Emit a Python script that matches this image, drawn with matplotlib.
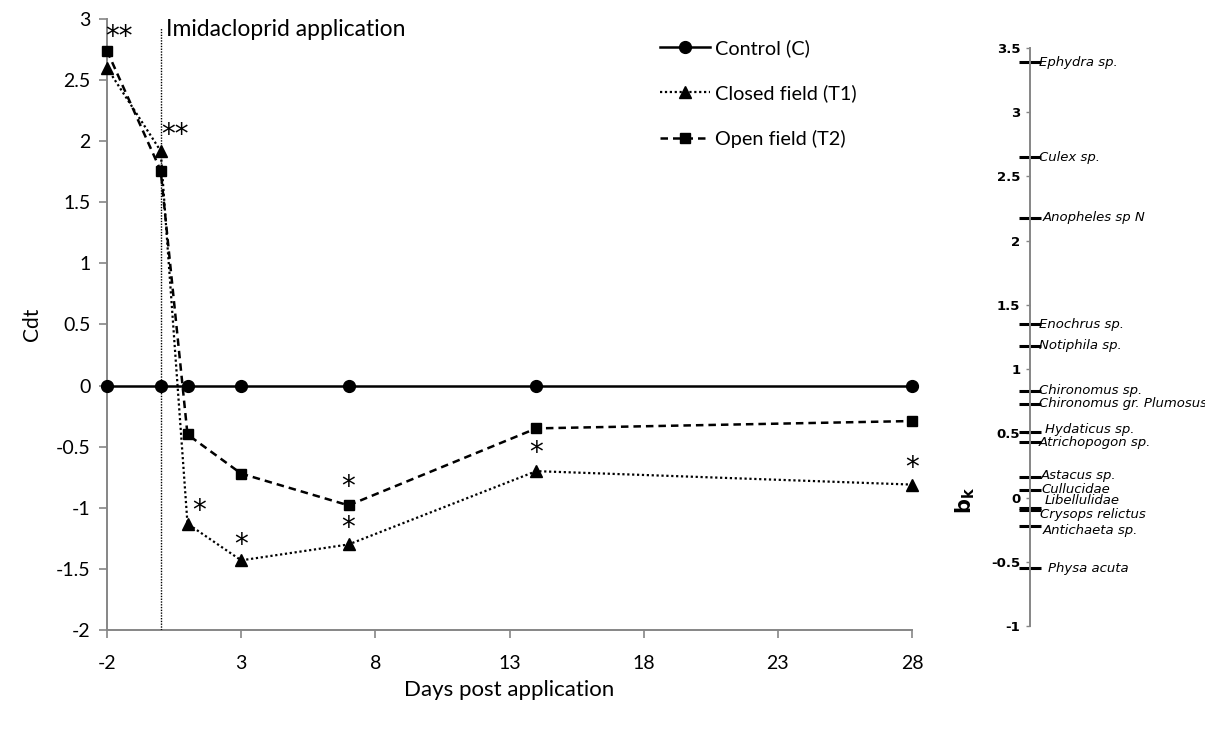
import matplotlib.pyplot as plt
import matplotlib.transforms as mtransforms

plt.rcParams['font.family'] = ['Lato', 'DejaVu Sans']
plt.rcParams['axes.unicode_minus'] = False

# main panel data
days = [-2, 0, 1, 3, 7, 14, 28]
control = [0, 0, 0, 0, 0, 0, 0]
closed_t1 = [2.60, 1.92, -1.13, -1.43, -1.30, -0.70, -0.81]
open_t2 = [2.74, 1.76, -0.40, -0.72, -0.98, -0.35, -0.29]
x_ticks = [-2, 3, 8, 13, 18, 23, 28]
y_ticks = [-2, -1.5, -1, -0.5, 0, 0.5, 1, 1.5, 2, 2.5, 3]

# significance marks: (series, index of day, text)
sig_marks = [
    ("T2", 0, "**"),
    ("T1", 1, "**"),
    ("T1", 2, "*"),
    ("T1", 3, "*"),
    ("T2", 4, "*"),
    ("T1", 4, "*"),
    ("T1", 5, "*"),
    ("T1", 6, "*"),
]
# offsets of the marks from their point, in pixels (style only)
sig_offsets = [(12, 14), (14, 16), (12, 13), (0, 15), (0, 18), (0, 16), (0, 18), (0, 17)]

# right panel data: species and b_k
species = ["Ephydra sp.", "Culex sp.", "Anopheles sp N", "Enochrus sp.",
           "Notiphila sp.", "Chironomus sp.", "Chironomus gr. Plumosus",
           "Hydaticus sp.", "Atrichopogon sp.", "Astacus sp.", "Cullucidae",
           "Libellulidae", "Crysops relictus", "Antichaeta sp.", "Physa acuta"]
b_k = [3.39, 2.65, 2.18, 1.35, 1.18, 0.83, 0.73, 0.51, 0.43, 0.16, 0.06,
       -0.08, -0.10, -0.22, -0.55]
bk_ticks = [-1, -0.5, 0, 0.5, 1, 1.5, 2, 2.5, 3, 3.5]
# label nudges in pixels (dx, dy) for the crowded names
label_nudge = {"Anopheles sp N": (4, 0), "Hydaticus sp.": (6, 3),
               "Astacus sp.": (2, 2), "Cullucidae": (2, 0),
               "Libellulidae": (6, 7), "Crysops relictus": (1, -4),
               "Antichaeta sp.": (4, -5), "Physa acuta": (9, 0)}

W, H = 1205, 729
fig = plt.figure(figsize=(W / 100, H / 100), dpi=100)
grey = "#868686"

ax = fig.add_axes([107 / W, 1 - 630 / H, (912 - 107) / W, (630 - 19) / H])
ax.plot(days, control, color="black", lw=1.8, marker="o", ms=8.5,
        label="Control (C)", clip_on=False, zorder=4)
ax.plot(days, closed_t1, color="black", lw=1.6, ls=(0, (1, 1.2)), marker="^",
        ms=8, label="Closed field (T1)", clip_on=False, zorder=5)
ax.plot(days, open_t2, color="black", lw=1.8, ls=(0, (3, 2)), marker="s",
        ms=7.5, label="Open field (T2)", clip_on=False, zorder=5)

ax.axvline(0, color="black", lw=1.0, ls=(0, (1, 1)), ymax=0.985, zorder=3)
ax.text(0.2, 2.91, "Imidacloprid application", fontsize=16.5, ha="left", va="center")

series = {"T1": closed_t1, "T2": open_t2}
for (name, i, txt), (dx, dy) in zip(sig_marks, sig_offsets):
    tr = ax.transData + mtransforms.ScaledTranslation(dx / 100, dy / 100, fig.dpi_scale_trans)
    ax.text(days[i], series[name][i], txt, transform=tr, fontsize=20,
            ha="center", va="center", family="DejaVu Sans", zorder=6)

ax.set_xlim(-2, 28)
ax.set_ylim(-2, 3)
ax.set_xticks(x_ticks)
ax.set_yticks(y_ticks)
ax.set_yticklabels([f"{v:g}" for v in y_ticks])
ax.tick_params(direction="out", length=6, width=1.2, color=grey, labelsize=14, pad=6)
ax.tick_params(axis="x", pad=12)
for s in ["top", "right"]:
    ax.spines[s].set_visible(False)
for s in ["left", "bottom"]:
    ax.spines[s].set_color(grey)
    ax.spines[s].set_linewidth(1.4)
ax.set_xlabel("Days post application", fontsize=16, labelpad=6)
ax.set_ylabel("Cdt", fontsize=15, labelpad=10)

fig.legend(handles=ax.get_lines()[:3], loc="upper left",
           bbox_to_anchor=(642 / W, 1 - 21 / H), frameon=False, fontsize=14.3,
           handlelength=2.5, labelspacing=1.38, handletextpad=0.3)

# right panel: b_k scale
bx = fig.add_axes([1030 / W, 1 - 626 / H, 0.14, (626 - 48) / H])
bx.set_xlim(0, 1)
bx.set_ylim(-1, 3.5)
bx.plot([0] * len(b_k), b_k, ls="none", marker="_", ms=16, mew=2.2,
        color="black", clip_on=False)
for name, v in zip(species, b_k):
    dx, dy = label_nudge.get(name, (0, 0))
    tr = bx.transData + mtransforms.ScaledTranslation((9 + dx) / 100, dy / 100, fig.dpi_scale_trans)
    bx.text(0, v, name, transform=tr, fontsize=9.5, style="italic",
            family=["Liberation Sans Narrow", "DejaVu Sans"], ha="left", va="center")
bx.set_yticks(bk_ticks)
bx.set_yticklabels([f"{v:g}" for v in bk_ticks], fontweight="bold",
                   family=["Liberation Sans Narrow", "DejaVu Sans"])
bx.tick_params(direction="out", length=3, width=1, color=grey, labelsize=9.5, pad=4)
bx.set_xticks([])
for s in ["top", "right", "bottom"]:
    bx.spines[s].set_visible(False)
bx.spines["left"].set_color(grey)
bx.spines["left"].set_linewidth(1.4)
fig.text(965 / W, 1 - 500 / H, r"$\mathbf{b_k}$", fontsize=15, rotation=90,
         ha="center", va="center")

fig.savefig("out.png", dpi=100)
